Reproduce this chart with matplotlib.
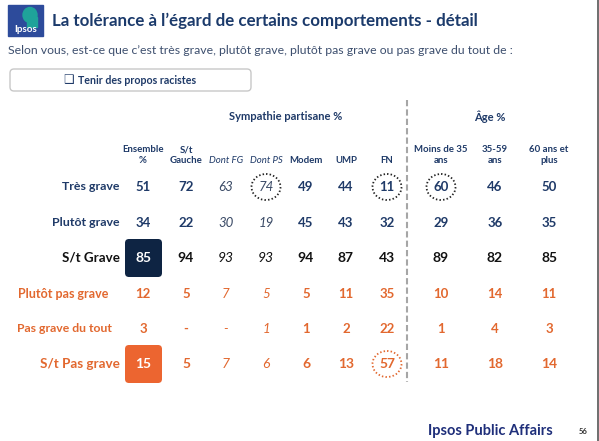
import matplotlib
matplotlib.use("Agg")
import matplotlib.pyplot as plt
from matplotlib.patches import FancyBboxPatch, Ellipse, Rectangle

# ---------------- data ----------------
title = "La tolérance à l\u2019égard de certains comportements - détail"
subtitle = "Selon vous, est-ce que c\u2019est très grave, plutôt grave, plutôt pas grave ou pas grave du tout de :"
item = "Tenir des propos racistes"
group_party = "Sympathie partisane %"
group_age = "Âge %"

rows = ["Très grave", "Plutôt grave", "S/t Grave", "Plutôt pas grave", "Pas grave du tout", "S/t Pas grave"]
columns = ["Ensemble\n%", "S/t\nGauche", "Dont FG", "Dont PS", "Modem", "UMP", "FN",
           "Moins de 35\nans", "35-59\nans", "60 ans et\nplus"]

ensemble = [51, 34, 85, 12, 3, 15]
st_gauche = [72, 22, 94, 5, None, 5]
dont_fg = [63, 30, 93, 7, None, 7]
dont_ps = [74, 19, 93, 5, 1, 6]
modem = [49, 45, 94, 5, 1, 6]
ump = [44, 43, 87, 11, 2, 13]
fn = [11, 32, 43, 35, 22, 57]
moins_35 = [60, 29, 89, 10, 1, 11]
ans_35_59 = [46, 36, 82, 14, 4, 18]
ans_60_plus = [50, 35, 85, 11, 3, 14]
series = [ensemble, st_gauche, dont_fg, dont_ps, modem, ump, fn, moins_35, ans_35_59, ans_60_plus]

# highlighted cells (row index, column index)
filled_cells = [(2, 0), (5, 0)]
circled_cells = [(0, 3), (0, 6), (0, 7), (5, 6)]

# ---------------- layout / style ----------------
W, H = 599, 441
FONT = "Lato"
NAVY = "#1f3a68"
DARK = "#111111"
ORANGE = "#e2682f"
TITLE_C = "#1b3a6b"

col_x = [143, 186, 226, 266, 306, 346, 387, 441, 495, 549]
row_y = [187, 223, 258, 294, 329, 364]
row_label_right = [120, 120, 120, 108, 112, 120]
row_colors = [NAVY, NAVY, DARK, ORANGE, ORANGE, ORANGE]
row_sizes = [8.9, 8.9, 9.6, 9, 8.8, 9.7]
italic_cols = [2, 3]

fig = plt.figure(figsize=(W / 100, H / 100), dpi=100)
ax = fig.add_axes([0, 0, 1, 1])
ax.set_xlim(0, W)
ax.set_ylim(H, 0)
ax.axis("off")

# right frame line
ax.plot([597.5, 597.5], [0, H], color="#555555", lw=1.2)

# logo
ax.add_patch(Rectangle((8, 5), 35, 31, color="#2d4b9b", zorder=2))
ax.add_patch(Ellipse((30, 15), 14, 15, color="#1fa39a", zorder=3))
ax.add_patch(Rectangle((27, 17), 10, 10, color="#1fa39a", zorder=3))
ax.text(25.5, 30, "Ipsos", color="white", fontsize=7, fontweight="bold",
        family=FONT, ha="center", va="center", zorder=4)

# title and subtitle
ax.text(52, 21, title, color=TITLE_C, fontsize=12.2, fontweight="bold", family=FONT,
        ha="left", va="center")
ax.text(8, 50, subtitle, color="#3d4f6e", fontsize=8.85, family=FONT, ha="left", va="center")

# item box
ax.add_patch(FancyBboxPatch((10, 69), 241, 22, boxstyle="round,pad=0,rounding_size=4",
                            fc="white", ec="#c8c8c8", lw=1.0))
ax.text(69, 80, "\u2751", color=NAVY, fontsize=8.5, family=["DejaVu Sans"], ha="center", va="center")
ax.text(78, 80, item, color=NAVY, fontsize=7.7, fontweight="bold", family=FONT,
        ha="left", va="center")

# group headers
ax.text(286, 117, group_party, color=NAVY, fontsize=8, fontweight="bold", family=FONT,
        ha="center", va="center")
ax.text(490, 117, group_age, color=NAVY, fontsize=8, fontweight="bold", family=FONT,
        ha="center", va="center")

# dashed separator
ax.plot([407, 407], [100, 382], color="#a6a6a6", lw=1.5, ls=(0, (3, 1.5)))

# column headers
for j, (x, lab) in enumerate(zip(col_x, columns)):
    it = j in italic_cols
    ax.text(x, 165, lab, color=NAVY, fontsize=6.9, family=FONT,
            fontweight="normal" if it else "bold", style="italic" if it else "normal",
            ha="center", va="bottom", linespacing=1.25)

# row labels
for i, lab in enumerate(rows):
    ax.text(row_label_right[i], row_y[i], lab, color=row_colors[i], fontsize=row_sizes[i],
            fontweight="bold", family=FONT, ha="right", va="center")

# filled highlight boxes
for (i, j) in filled_cells:
    fc = "#0e2443" if i == 2 else "#ec6530"
    ax.add_patch(FancyBboxPatch((col_x[j] - 18, row_y[i] - 19), 37, 38,
                                boxstyle="round,pad=0,rounding_size=4", fc=fc, ec="none", zorder=1))

# circles
for (i, j) in circled_cells:
    ec = ORANGE if i >= 3 else "#222222"
    ax.add_patch(Ellipse((col_x[j], row_y[i]), 29, 26, fc="none", ec=ec, lw=1.3,
                         ls=(0, (0.8, 1.2)), zorder=3))

# values
for j, vals in enumerate(series):
    it = j in italic_cols
    for i, v in enumerate(vals):
        txt = "-" if v is None else str(v)
        color = row_colors[i]
        if (i, j) in filled_cells:
            color = "white"
        if it and i < 2:
            color = "#3a4a66"
        fs = 10 if i in (2, 5) else 9.5
        ax.text(col_x[j], row_y[i], txt, color=color, fontsize=fs, family=FONT,
                fontweight="normal" if it else "bold", style="italic" if it else "normal",
                ha="center", va="center", zorder=4)

# footer
ax.text(553, 431, "Ipsos Public Affairs", color="#1f2f7a", fontsize=10.5, fontweight="bold",
        family=FONT, ha="right", va="center")
ax.text(583, 432, "56", color="#333333", fontsize=5.5, fontweight="bold", family=FONT,
        ha="center", va="center")

fig.savefig("out.png", dpi=100)
